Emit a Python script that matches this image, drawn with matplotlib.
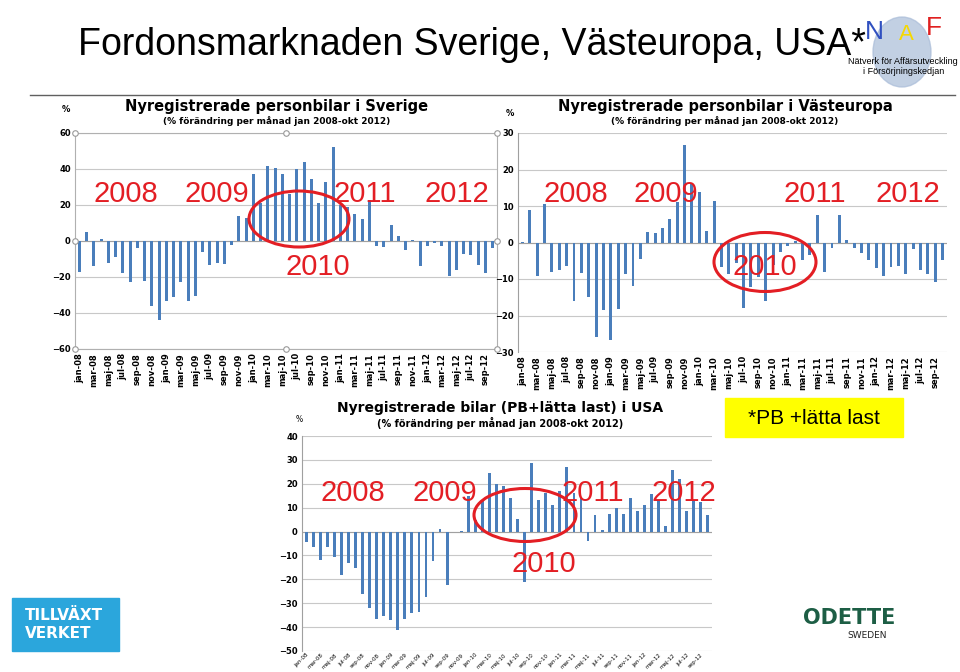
import matplotlib
matplotlib.use('Agg')
import matplotlib.pyplot as plt
import numpy as np
from matplotlib.patches import Ellipse, Rectangle
from matplotlib.lines import Line2D

# months jan-08 .. okt-12 (58)
months = ['jan', 'feb', 'mar', 'apr', 'maj', 'jun', 'jul', 'aug', 'sep', 'okt', 'nov', 'dec']
month_labels = [m + '-' + y for y in ['08', '09', '10', '11', '12'] for m in months][:58]

sverige = [-17, 5, -14, 1, -12, -9, -17.5, -23, -4, -22, -36, -44,
           -33.5, -31, -23, -33.5, -30.5, -6, -13.5, -12, -13, -2, 14, 13,
           37, 21, 41.5, 40.5, 37, 26, 40, 44, 34.5, 21, 33, 52.5,
           20, 19, 15, 12.5, 23, -2.5, -3.5, 9, 3, -5, 0.3, -14,
           -2.5, -1, -3, -19.5, -16, -7, -8, -13.5, -17.5, -4]

vasteuropa = [0.2, 9, -9.3, 10.5, -8, -7.5, -6.5, -16, -8.3, -14.8, -25.8, -18.5,
              -26.8, -18.2, -8.7, -11.8, -4.5, 2.8, 2.5, 3.9, 6.4, 11, 26.6, 16,
              13.8, 3.1, 11.3, -6.8, -8.7, -5.5, -18, -12.2, -9.5, -15.9, -6.2, -2.7,
              -1, 0.4, -4.8, -3.3, 7.5, -8, -1.6, 7.5, 0.7, -1.5, -2.8, -4.7,
              -7.1, -9.2, -6.7, -6.4, -8.5, -1.9, -7.4, -8.5, -10.8, -4.7]

usa = [-4.5, -6.3, -12, -6.5, -10.5, -18, -13, -15.2, -26.3, -31.8, -36.5, -35.5,
       -37, -41.3, -36.5, -34.2, -33.5, -27.5, -12.2, 1, -22.5, 0, 0.3, 15,
       5, 13, 24.5, 20, 19, 14, 5.2, -21, 28.5, 13.2, 16, 11,
       17, 27, 16, 14, -3.8, 6.8, 0.8, 7.3, 10, 7.3, 14, 8.8,
       11.2, 15.8, 13, 2.2, 25.8, 22, 8.8, 13, 12.5, 6.8]

year_labels = ['2008', '2009', '2011', '2012']

W, H = 960, 672
BAR = '#4a7ebb'
RED = '#e31e24'

fig = plt.figure(figsize=(9.6, 6.72), dpi=100)


def fx(x):
    return x / W


def fy(y):
    return 1 - y / H


def box(x0, y0, x1, y1):
    return [fx(x0), fy(y1), (x1 - x0) / W, (y1 - y0) / H]


def draw_chart(ax, vals, ylim, step, rot, lab_size):
    x = np.arange(len(vals))
    ax.bar(x, vals, width=0.4, color=BAR, zorder=3)
    ax.set_xlim(-0.6, len(vals) - 0.4)
    ax.set_ylim(*ylim)
    ax.set_yticks(np.arange(ylim[0], ylim[1] + 1, step))
    ax.yaxis.grid(True, color='#c8c8c8', lw=0.8, zorder=0)
    ax.axhline(0, color='#a0a0a0', lw=0.8, zorder=2)
    ax.set_xticks(x[::2])
    if rot == 90:
        ax.set_xticklabels(month_labels[::2], rotation=90, fontsize=lab_size, fontweight='bold')
    else:
        ax.set_xticklabels(month_labels[::2], rotation=45, ha='right', rotation_mode='anchor',
                           fontsize=lab_size)
    ax.tick_params(axis='both', length=0, pad=3)
    for t in ax.get_yticklabels():
        t.set_fontsize(6)
        t.set_fontweight('bold')
    for s in ['top', 'right', 'bottom']:
        ax.spines[s].set_visible(False)
    ax.spines['left'].set_color('#a0a0a0')


# Sverige
ax1 = fig.add_axes(box(75, 133, 497, 349))
draw_chart(ax1, sverige, (-60, 60), 20, 90, 6)
for s in ['top', 'right', 'bottom', 'left']:
    ax1.spines[s].set_visible(True)
    ax1.spines[s].set_color('#b0b0b0')
hx = [0, 0.5, 1, 0, 1, 0, 0.5, 1]
hy = [1, 1, 1, 0.5, 0.5, 0, 0, 0]
ax1.plot(hx, hy, 'o', transform=ax1.transAxes, clip_on=False, ms=4,
         mfc='white', mec='#999999', mew=0.8, zorder=6)

# Västeuropa
ax2 = fig.add_axes(box(518, 133, 947, 352))
draw_chart(ax2, vasteuropa, (-30, 30), 10, 90, 6)

# USA
ax3 = fig.add_axes(box(302, 436, 712, 651))
draw_chart(ax3, usa, (-50, 40), 10, 45, 4)
ax3.tick_params(axis='x', pad=1)

# chart titles
fig.text(fx(277), fy(106), 'Nyregistrerade personbilar i Sverige', ha='center', va='center',
         fontsize=10.5, fontweight='bold')
fig.text(fx(277), fy(121), '(% förändring per månad jan 2008-okt 2012)', ha='center', va='center',
         fontsize=6.5, fontweight='bold')
fig.text(fx(66), fy(110), '%', ha='center', va='center', fontsize=6, fontweight='bold')

fig.text(fx(725), fy(107), 'Nyregistrerade personbilar i Västeuropa', ha='center', va='center',
         fontsize=10.5, fontweight='bold')
fig.text(fx(725), fy(121), '(% förändring per månad jan 2008-okt 2012)', ha='center', va='center',
         fontsize=6.5, fontweight='bold')
fig.text(fx(510), fy(113), '%', ha='center', va='center', fontsize=6, fontweight='bold')

fig.text(fx(500), fy(408), 'Nyregistrerade bilar (PB+lätta last) i USA', ha='center', va='center',
         fontsize=10, fontweight='bold')
fig.text(fx(500), fy(423), '(% förändring per månad jan 2008-okt 2012)', ha='center', va='center',
         fontsize=7, fontweight='bold')
fig.text(fx(299), fy(420), '%', ha='center', va='center', fontsize=5.5)

# red year annotations and circles
annot = [
    ([126, 217, 365, 457], 194, (318, 267), (299, 219, 100, 56)),
    ([576, 666, 815, 908], 194, (765, 267), (765, 262, 102, 59)),
    ([353, 445, 593, 684], 493, (544, 564), (525, 515, 102, 53)),
]
for xs, yy, (x10, y10), (ex, ey, ew, eh) in annot:
    for xx, lab in zip(xs, year_labels):
        fig.text(fx(xx), fy(yy), lab, ha='center', va='center', fontsize=21,
                 color=RED, family='Liberation Sans', zorder=10)
    fig.text(fx(x10), fy(y10), '2010', ha='center', va='center', fontsize=21,
             color=RED, family='Liberation Sans', zorder=10)
    fig.add_artist(Ellipse((fx(ex), fy(ey)), ew / W, eh / H, fill=False,
                           ec=RED, lw=2.2, transform=fig.transFigure, zorder=10))

# NAF logo (behind the title)
fig.add_artist(Ellipse((fx(902), fy(52)), 58 / W, 70 / H, color='#a9bcd8', alpha=0.7,
                       transform=fig.transFigure, zorder=1))
fig.text(fx(874), fy(32), 'N', ha='center', va='center', fontsize=19, color='#3050c0',
         family='Liberation Sans', zorder=2)
fig.text(fx(906), fy(34), 'A', ha='center', va='center', fontsize=16, color='#f5d800',
         family='Liberation Sans', zorder=2)
fig.text(fx(934), fy(28), 'F', ha='center', va='center', fontsize=19, color='#e02020',
         family='Liberation Sans', zorder=2)
fig.text(fx(958), fy(61), 'Nätverk för Affärsutveckling', ha='right', va='center', fontsize=6.5,
         family='Liberation Sans', zorder=3)
fig.text(fx(944), fy(72), 'i Försörjningskedjan', ha='right', va='center', fontsize=6.5,
         family='Liberation Sans', zorder=3)

# slide title
fig.text(fx(78), fy(45), 'Fordonsmarknaden Sverige, Västeuropa, USA*', ha='left', va='center',
         fontsize=27, family='Liberation Sans', zorder=4)
fig.add_artist(Line2D([fx(30), fx(955)], [fy(95), fy(95)], color='#606060', lw=1,
                      transform=fig.transFigure))

# yellow note
fig.add_artist(Rectangle((fx(725), fy(437)), 178 / W, 39 / H, color='#ffff00',
                         transform=fig.transFigure, zorder=2))
fig.text(fx(814), fy(418), '*PB +lätta last', ha='center', va='center', fontsize=15,
         family='Liberation Sans', zorder=3)

# Tillväxtverket logo
fig.add_artist(Rectangle((fx(12), fy(651)), 107 / W, 53 / H, color='#2ba6dc',
                         transform=fig.transFigure, zorder=2))
fig.text(fx(25), fy(616), 'TILLVÄXT', ha='left', va='center', fontsize=11, fontweight='bold',
         color='white', zorder=3)
fig.text(fx(25), fy(634), 'VERKET', ha='left', va='center', fontsize=11, fontweight='bold',
         color='white', zorder=3)

# ODETTE logo
fig.text(fx(849), fy(618), 'ODETTE', ha='center', va='center', fontsize=15, fontweight='bold',
         color='#1d5e45')
fig.text(fx(867), fy(636), 'SWEDEN', ha='center', va='center', fontsize=6.5, color='#222222')

fig.savefig('out.png', dpi=100)
